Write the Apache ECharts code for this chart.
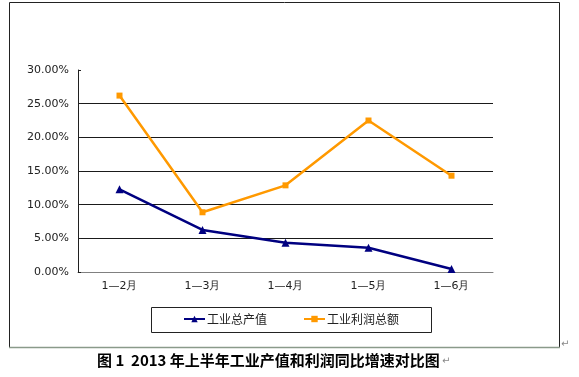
<!DOCTYPE html>
<html><head><meta charset="utf-8">
<script src="https://cdn.jsdelivr.net/npm/echarts@6/dist/echarts.min.js"></script>
<style>html,body{margin:0;padding:0;background:#fff}#c{width:579px;height:377px}</style>
</head><body><div id="c"></div>
<script>
var categories = ['1\u20142月','1\u20143月','1\u20144月','1\u20145月','1\u20146月'];
var outputGrowth = [0.1228, 0.0624, 0.0436, 0.036, 0.0045];
var profitGrowth = [0.262, 0.0887, 0.1287, 0.225, 0.143];
var seriesNames = ['工业总产值','工业利润总额'];
var titleText = '图 1  2013 年上半年工业产值和利润同比增速对比图';

var chart = echarts.init(document.getElementById('c'), null, {renderer:'canvas'});
var labelFont = 'DejaVu Sans';
var g = '#1a1a1a';
chart.setOption({
  animation:false,
  backgroundColor:'#fff',
  grid:{left:78,right:86,top:70,bottom:105},
  legend:{
    left:183, top:313, padding:0, itemGap:36, itemWidth:21, itemHeight:8,
    textStyle:{fontFamily:'Noto Sans CJK SC',fontSize:12,color:'#222',padding:[0,0,0,-3]},
    data:seriesNames
  },
  xAxis:{
    type:'category', data:categories, boundaryGap:true,
    axisLine:{lineStyle:{color:'#808080',width:1}},
    axisTick:{inside:true,length:3,lineStyle:{color:'#404040'}},
    axisLabel:{fontFamily:labelFont,fontSize:11,color:'#222',margin:9}
  },
  yAxis:{
    type:'value', min:0, max:0.30, interval:0.05,
    axisLine:{show:true,lineStyle:{color:'#202020',width:1}},
    axisTick:{show:true,inside:true,length:3,lineStyle:{color:'#202020'}},
    splitLine:{lineStyle:{color:['rgba(0,0,0,0)',g,g,g,g,g,'rgba(0,0,0,0)'],width:1}},
    axisLabel:{fontFamily:labelFont,fontSize:11,color:'#222',margin:9,
      formatter:function(v){return (v*100).toFixed(2)+'%';}}
  },
  series:[
    {name:seriesNames[0],type:'line',data:outputGrowth,symbol:'triangle',symbolSize:8,
     color:'#000080',lineStyle:{width:2.5,color:'#000080'},itemStyle:{color:'#000080'}},
    {name:seriesNames[1],type:'line',data:profitGrowth,symbol:'rect',symbolSize:6,
     color:'#FF9900',lineStyle:{width:2.5,color:'#FF9900'},itemStyle:{color:'#FF9900'}}
  ],
  graphic:[
    {type:'rect',shape:{x:9.5,y:2.5,width:550,height:345},style:{fill:null,stroke:'#222',lineWidth:1},silent:true,z:-1},
    {type:'line',shape:{x1:9,y1:347.5,x2:560,y2:347.5},style:{stroke:'#8a9a8a',lineWidth:1.5},silent:true},
    {type:'rect',shape:{x:151.5,y:307.5,width:280,height:25},style:{fill:null,stroke:'#222',lineWidth:1},silent:true},
    {type:'text',left:97,top:353,style:{text:titleText,font:'bold 15px "Noto Sans CJK SC"',fill:'#000'}},
    {type:'text',left:442,top:356,style:{text:'\u21b5',font:'10px "DejaVu Sans"',fill:'#888'}},
    {type:'text',left:561,top:339,style:{text:'\u21b5',font:'10px "DejaVu Sans"',fill:'#888'}}
  ]
});
</script></body></html>
